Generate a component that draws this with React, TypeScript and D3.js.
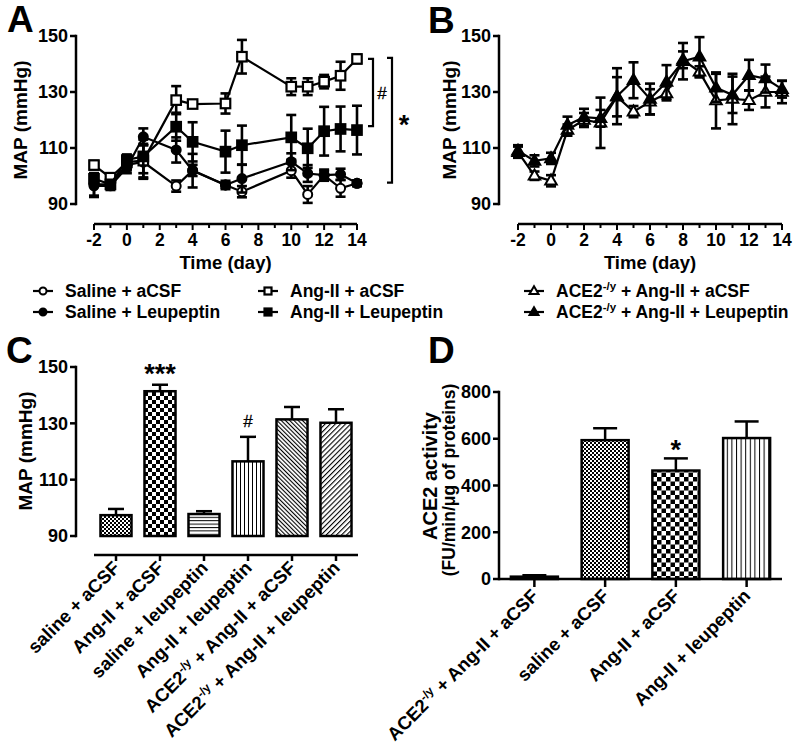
import React from "react";
import * as d3 from "d3";

const FONT = "'Liberation Sans', Arial, Helvetica, sans-serif";

// ---------- Panel A data (MAP, mmHg) ----------
const daysA = [-2, -1, 0, 1, 3, 4, 6, 7, 10, 11, 12, 13, 14];
const salineACSF = [97, 97, 104, 105, 96.4, 102, 96.8, 94.4, 101.9, 93.4, 100.3, 95.6, 97.4];
const salineACSFErr = [4, 1.5, 2, 6, 2, 2, 1.5, 2, 2.5, 3, 1.5, 3, 1];
const salineLeup = [96.5, 96.5, 103, 114, 109.3, 101.9, 96.8, 99.1, 105.1, 100.9, 100.3, 100.6, 97.4];
const salineLeupErr = [4, 1.5, 2, 3, 4.5, 6, 1, 5, 3, 3, 2, 2, 1];
const angACSF = [103.9, 99.4, 105, 105.5, 127.1, 125.7, 125.9, 142.6, 131.9, 131.9, 133.7, 135.8, 141.8];
const angACSFErr = [1.5, 1.5, 1.5, 6, 5, 1, 3.6, 6, 3, 3, 2.4, 5, 1.5];
const angLeup = [99, 97, 105.7, 107, 117.6, 112.2, 108.7, 111, 113.8, 109.9, 116, 116.8, 116.4];
const angLeupErr = [2, 1.5, 2, 6, 5, 7, 7.5, 7, 8, 7, 8.7, 8, 8.7];
const legendA = ["Saline + aCSF", "Saline + Leupeptin", "Ang-II + aCSF", "Ang-II + Leupeptin"];
const bracketHash = [141.8, 117.8];
const bracketStar = [142.2, 97.6];

// ---------- Panel B data ----------
const daysB = [-2, -1, 0, 1, 2, 3, 4, 5, 6, 7, 8, 9, 10, 11, 12, 13, 14];
const ace2ACSF = [108.5, 100.1, 98.3, 116.4, 120, 119, 128.3, 123, 126.5, 129.5, 141.5, 137.2, 127, 127.5, 127.1, 130, 130];
const ace2ACSFErr = [2, 1.5, 2, 2, 2.5, 9, 7, 2, 4.5, 2.5, 3, 2, 10, 9, 3.5, 5.5, 4];
const ace2Leup = [109, 105.4, 106.3, 118.2, 121, 120.6, 128.5, 134.2, 127.5, 133.6, 141, 142.6, 131.5, 129, 136, 134.8, 131];
const ace2LeupErr = [2, 2, 2, 3, 3, 3, 10, 6.4, 5.5, 6, 6.5, 7, 5, 6.5, 5.5, 5, 3];
const legendB = ["ACE2^{-/y} + Ang-II + aCSF", "ACE2^{-/y} + Ang-II + Leupeptin"];

// ---------- shared axis ticks ----------
const dayTicks = [-2, -1, 0, 1, 2, 3, 4, 5, 6, 7, 8, 9, 10, 11, 12, 13, 14];
const dayLabels = [-2, 0, 2, 4, 6, 8, 10, 12, 14];
const mapTicks = [90, 110, 130, 150];

// ---------- Panel C data ----------
const catsC = [
  "saline + aCSF",
  "Ang-II + aCSF",
  "saline + leupeptin",
  "Ang-II + leupeptin",
  "ACE2^{-/y} + Ang-II + aCSF",
  "ACE2^{-/y} + Ang-II + leupeptin",
];
const valsC = [97.4, 141.4, 97.8, 116.5, 131.4, 130.2];
const errC = [2.2, 2.3, 1.0, 8.7, 4.4, 4.8];
const annotC = ["", "***", "", "#", "", ""];

// ---------- Panel D data ----------
const catsD = ["ACE2^{-/y} + Ang-II + aCSF", "saline + aCSF", "Ang-II + aCSF", "Ang-II + leupeptin"];
const valsD = [10, 594, 464, 603];
const errD = [6, 51, 52, 71];
const annotD = ["", "", "*", ""];
const ticksD = [0, 200, 400, 600, 800];

const patC = ["fineChk", "coarseChk", "hLines", "vLines", "diagA", "diagB"];
const patD = ["black", "fineChk", "coarseChk2", "vLines2"];

function Rich({ text, sup }: { text: string; sup: number }) {
  const m = text.match(/^(.*?)\^\{(.*?)\}(.*)$/);
  if (!m) return <>{text}</>;
  const d = sup * 0.6;
  return (
    <>
      {m[1]}
      <tspan dy={-d} fontSize={sup}>{m[2]}</tspan>
      <tspan dy={d}>{m[3]}</tspan>
    </>
  );
}

function Marker({ type, x, y, s }: { type: string; x: number; y: number; s: number }) {
  const open = type.endsWith("Open");
  const fill = open ? "#fff" : "#000";
  if (type.startsWith("circle"))
    return <circle cx={x} cy={y} r={s / 2} fill={fill} stroke="#000" strokeWidth={2} />;
  if (type.startsWith("square"))
    return <rect x={x - s / 2} y={y - s / 2} width={s} height={s} fill={fill} stroke="#000" strokeWidth={2.2} />;
  const h = s * 0.866;
  const pts = `${x},${y - h * 0.62} ${x - s / 2},${y + h * 0.38} ${x + s / 2},${y + h * 0.38}`;
  return <polygon points={pts} fill={fill} stroke="#000" strokeWidth={2} strokeLinejoin="miter" />;
}

type Series = { xs: number[]; ys: number[]; es: number[]; marker: string };

function TimePanel({
  series,
  x,
  y,
  axisX,
}: {
  series: Series[];
  x: d3.ScaleLinear<number, number>;
  y: d3.ScaleLinear<number, number>;
  axisX: number;
}) {
  const line = d3.line<[number, number]>().x((d) => x(d[0])).y((d) => y(d[1]));
  const xAxisY = 224;
  return (
    <g>
      <line x1={axisX} x2={axisX} y1={y(150)} y2={y(90)} stroke="#000" strokeWidth={2.5} strokeLinecap="square" />
      {mapTicks.map((t) => (
        <g key={t}>
          <line x1={axisX - 6} x2={axisX} y1={y(t)} y2={y(t)} stroke="#000" strokeWidth={2.5} />
          <text x={axisX - 8} y={y(t)} dy="0.36em" textAnchor="end" fontSize={18} fontWeight="bold">
            {t}
          </text>
        </g>
      ))}
      <line x1={x(-2)} x2={x(14)} y1={xAxisY} y2={xAxisY} stroke="#000" strokeWidth={2.5} />
      {dayTicks.map((t) => (
        <line key={t} x1={x(t)} x2={x(t)} y1={xAxisY} y2={xAxisY + (t % 2 === 0 ? 6 : 4)} stroke="#000" strokeWidth={2} />
      ))}
      {dayLabels.map((t) => (
        <text key={t} x={x(t)} y={246} textAnchor="middle" fontSize={17.5} fontWeight="bold">
          {t}
        </text>
      ))}
      <text x={(x(-2) + x(14)) / 2} y={269} textAnchor="middle" fontSize={18.5} fontWeight="bold">
        Time (day)
      </text>
      {series.map((s, i) => (
        <g key={i}>
          <path d={line(s.xs.map((d, j) => [d, s.ys[j]]) as [number, number][]) || ""} fill="none" stroke="#000" strokeWidth={2.2} />
          {s.xs.map((d, j) => {
            const cx = x(d);
            const y1 = y(s.ys[j] + s.es[j]);
            const y2 = y(s.ys[j] - s.es[j]);
            return (
              <g key={j} stroke="#000" strokeWidth={2.6}>
                <line x1={cx} x2={cx} y1={y1} y2={y2} />
                <line x1={cx - 5} x2={cx + 5} y1={y1} y2={y1} />
                <line x1={cx - 5} x2={cx + 5} y1={y2} y2={y2} />
              </g>
            );
          })}
          {s.xs.map((d, j) => (
            <Marker key={"m" + j} type={s.marker} x={x(d)} y={y(s.ys[j])} s={s.marker.startsWith("tri") ? 11.5 : s.marker.startsWith("square") ? 9.5 : 9} />
          ))}
        </g>
      ))}
    </g>
  );
}

function LegendItem({ x, y, marker, label }: { x: number; y: number; marker: string; label: string }) {
  return (
    <g>
      <line x1={x - 10} x2={x + 10} y1={y - 6} y2={y - 6} stroke="#000" strokeWidth={2.2} />
      <Marker type={marker} x={x} y={y - 6} s={marker.startsWith("tri") ? 9 : 7} />
      <text x={x + 22} y={y} fontSize={17.5} fontWeight="bold">
        <Rich text={label} sup={11.5} />
      </text>
    </g>
  );
}

function Hash({ x, y }: { x: number; y: number }) {
  return (
    <text x={x} y={y} textAnchor="middle" fontSize={17} fontFamily="'Liberation Sans'" fontWeight={400} fill="#000" stroke="#000" strokeWidth={0.3}>
      #
    </text>
  );
}

function Patterns() {
  return (
    <defs>
      <pattern id="fineChk" width={4} height={4} patternUnits="userSpaceOnUse">
        <rect width={4} height={4} fill="#fff" />
        <rect width={2} height={2} fill="#000" />
        <rect x={2} y={2} width={2} height={2} fill="#000" />
      </pattern>
      <pattern id="coarseChk" width={8} height={8} patternUnits="userSpaceOnUse">
        <rect width={8} height={8} fill="#fff" />
        <rect width={4} height={4} fill="#000" />
        <rect x={4} y={4} width={4} height={4} fill="#000" />
      </pattern>
      <pattern id="coarseChk2" width={9} height={9} patternUnits="userSpaceOnUse">
        <rect width={9} height={9} fill="#fff" />
        <rect width={4.5} height={4.5} fill="#000" />
        <rect x={4.5} y={4.5} width={4.5} height={4.5} fill="#000" />
      </pattern>
      <pattern id="hLines" width={4} height={3.4} patternUnits="userSpaceOnUse">
        <rect width={4} height={3.4} fill="#fff" />
        <rect y={0} width={4} height={1} fill="#000" />
      </pattern>
      <pattern id="vLines" width={4} height={4} patternUnits="userSpaceOnUse">
        <rect width={4} height={4} fill="#fff" />
        <rect x={0} width={1} height={4} fill="#000" />
      </pattern>
      <pattern id="vLines2" width={4.6} height={4} patternUnits="userSpaceOnUse">
        <rect width={4.6} height={4} fill="#fff" />
        <rect x={0} width={1} height={4} fill="#000" />
      </pattern>
      <pattern id="diagA" width={3} height={3} patternUnits="userSpaceOnUse" patternTransform="rotate(-45)">
        <rect width={3} height={3} fill="#fff" />
        <rect x={0} width={1.1} height={3} fill="#000" />
      </pattern>
      <pattern id="diagB" width={3.6} height={3.6} patternUnits="userSpaceOnUse" patternTransform="rotate(45)">
        <rect width={3.6} height={3.6} fill="#fff" />
        <rect x={0} width={1.1} height={3.6} fill="#000" />
      </pattern>
    </defs>
  );
}

export default function App() {
  const yA = d3.scaleLinear().domain([90, 150]).range([204, 36]);
  const xA = d3.scaleLinear().domain([-2, 14]).range([94, 357]);
  const xB = d3.scaleLinear().domain([-2, 14]).range([518, 782]);

  const seriesA: Series[] = [
    { xs: daysA, ys: salineACSF, es: salineACSFErr, marker: "circleOpen" },
    { xs: daysA, ys: salineLeup, es: salineLeupErr, marker: "circleFilled" },
    { xs: daysA, ys: angACSF, es: angACSFErr, marker: "squareOpen" },
    { xs: daysA, ys: angLeup, es: angLeupErr, marker: "squareFilled" },
  ];
  const seriesB: Series[] = [
    { xs: daysB, ys: ace2ACSF, es: ace2ACSFErr, marker: "triOpen" },
    { xs: daysB, ys: ace2Leup, es: ace2LeupErr, marker: "triFilled" },
  ];

  const yC = d3.scaleLinear().domain([90, 150]).range([536, 367]);
  const xC = d3.scaleBand().domain(catsC).range([94, 358]).paddingInner(0.295).paddingOuter(0.1475);
  const yD = d3.scaleLinear().domain([0, 800]).range([579, 392]);
  const xD = d3.scaleBand().domain(catsD).range([499, 782]).paddingInner(0.336).paddingOuter(0.168);

  return (
    <svg
      width={800}
      height={750}
      style={{ position: "absolute", left: 0, top: 0, background: "#fff", fontFamily: FONT, whiteSpace: "pre" }}
    >
      <Patterns />
      <rect width={800} height={750} fill="#fff" />
      <text x={7} y={32} fontSize={37} fontWeight="bold" fill="#000">A</text>
      <text x={428} y={33} fontSize={37} fontWeight="bold" fill="#000">B</text>
      <text x={6} y={363} fontSize={37} fontWeight="bold" fill="#000">C</text>
      <text x={428} y={363} fontSize={37} fontWeight="bold" fill="#000">D</text>

      {/* Panel A */}
      <text transform="translate(27,120) rotate(-90)" textAnchor="middle" fontSize={19} fontWeight="bold">
        MAP (mmHg)
      </text>
      <TimePanel series={seriesA} x={xA} y={yA} axisX={76} />
      <g stroke="#000" strokeWidth={2.2} fill="none">
        <polyline points={`368,${yA(bracketHash[0])} 373,${yA(bracketHash[0])} 373,${yA(bracketHash[1])} 368,${yA(bracketHash[1])}`} />
        <polyline points={`387,${yA(bracketStar[0])} 392,${yA(bracketStar[0])} 392,${yA(bracketStar[1])} 387,${yA(bracketStar[1])}`} />
      </g>
      <Hash x={382} y={(yA(bracketHash[0]) + yA(bracketHash[1])) / 2 + 6} />
      <text x={404} y={(yA(bracketStar[0]) + yA(bracketStar[1])) / 2 + 14} textAnchor="middle" fontSize={27} fontWeight="bold">*</text>
      <LegendItem x={43} y={297} marker="circleOpen" label={legendA[0]} />
      <LegendItem x={43} y={318} marker="circleFilled" label={legendA[1]} />
      <LegendItem x={268} y={297} marker="squareOpen" label={legendA[2]} />
      <LegendItem x={268} y={318} marker="squareFilled" label={legendA[3]} />

      {/* Panel B */}
      <text transform="translate(456,120) rotate(-90)" textAnchor="middle" fontSize={19} fontWeight="bold">
        MAP (mmHg)
      </text>
      <TimePanel series={seriesB} x={xB} y={yA} axisX={499} />
      <LegendItem x={534} y={297} marker="triOpen" label={legendB[0]} />
      <LegendItem x={534} y={318} marker="triFilled" label={legendB[1]} />

      {/* Panel C */}
      <text transform="translate(32,451) rotate(-90)" textAnchor="middle" fontSize={19} fontWeight="bold">
        MAP (mmHg)
      </text>
      <line x1={76} x2={76} y1={yC(150)} y2={yC(90)} stroke="#000" strokeWidth={2.5} strokeLinecap="square" />
      {mapTicks.map((t) => (
        <g key={t}>
          <line x1={70} x2={76} y1={yC(t)} y2={yC(t)} stroke="#000" strokeWidth={2.5} />
          <text x={68} y={yC(t)} dy="0.36em" textAnchor="end" fontSize={18} fontWeight="bold">{t}</text>
        </g>
      ))}
      <line x1={94} x2={358} y1={555} y2={555} stroke="#000" strokeWidth={2.5} />
      {catsC.map((c, i) => {
        const cx = (xC(c) as number) + xC.bandwidth() / 2;
        const top = yC(valsC[i]);
        const et = yC(valsC[i] + errC[i]);
        return (
          <g key={c}>
            <line x1={cx} x2={cx} y1={555} y2={561} stroke="#000" strokeWidth={2.5} />
            <line x1={cx} x2={cx} y1={top} y2={et} stroke="#000" strokeWidth={2.5} />
            <line x1={cx - 8} x2={cx + 8} y1={et} y2={et} stroke="#000" strokeWidth={2.5} />
            <rect x={xC(c)} y={top} width={xC.bandwidth()} height={yC(90) - top} fill={`url(#${patC[i]})`} stroke="#000" strokeWidth={2.5} />
            {annotC[i] === "***" && (
              <text x={cx} y={383} textAnchor="middle" fontSize={27} fontWeight="bold">***</text>
            )}
            {annotC[i] === "#" && <Hash x={cx} y={427} />}
            <text transform={`translate(${cx + 5},569) rotate(-45)`} textAnchor="end" fontSize={18.5} fontWeight="bold">
              <Rich text={c} sup={12} />
            </text>
          </g>
        );
      })}

      {/* Panel D */}
      <text transform="translate(437,476) rotate(-90)" textAnchor="middle" fontSize={20} fontWeight="bold">
        ACE2 activity
      </text>
      <text transform="translate(455,480) rotate(-90)" textAnchor="middle" fontSize={17.5} fontWeight="bold">
        (FU/min/μg of proteins)
      </text>
      {catsD.map((c, i) => {
        const cx = (xD(c) as number) + xD.bandwidth() / 2;
        const top = yD(valsD[i]);
        const et = yD(valsD[i] + errD[i]);
        return (
          <g key={c}>
            <line x1={cx} x2={cx} y1={579} y2={587} stroke="#000" strokeWidth={2.5} />
            <line x1={cx} x2={cx} y1={top} y2={et} stroke="#000" strokeWidth={2.5} />
            <line x1={cx - 12} x2={cx + 12} y1={et} y2={et} stroke="#000" strokeWidth={2.5} />
            <rect
              x={xD(c)}
              y={top}
              width={xD.bandwidth()}
              height={yD(0) - top}
              fill={patD[i] === "black" ? "#000" : `url(#${patD[i]})`}
              stroke="#000"
              strokeWidth={2.5}
            />
            {annotD[i] === "*" && (
              <text x={cx} y={459} textAnchor="middle" fontSize={27} fontWeight="bold">*</text>
            )}
            <text transform={`translate(${cx + 5},597) rotate(-45)`} textAnchor="end" fontSize={18.5} fontWeight="bold">
              <Rich text={c} sup={12} />
            </text>
          </g>
        );
      })}
      <line x1={499} x2={499} y1={yD(800)} y2={yD(0)} stroke="#000" strokeWidth={2.5} strokeLinecap="square" />
      <line x1={499} x2={782} y1={yD(0)} y2={yD(0)} stroke="#000" strokeWidth={2.5} />
      {ticksD.map((t) => (
        <g key={t}>
          <line x1={493} x2={499} y1={yD(t)} y2={yD(t)} stroke="#000" strokeWidth={2.5} />
          <text x={491} y={yD(t)} dy="0.36em" textAnchor="end" fontSize={18} fontWeight="bold">{t}</text>
        </g>
      ))}
    </svg>
  );
}
